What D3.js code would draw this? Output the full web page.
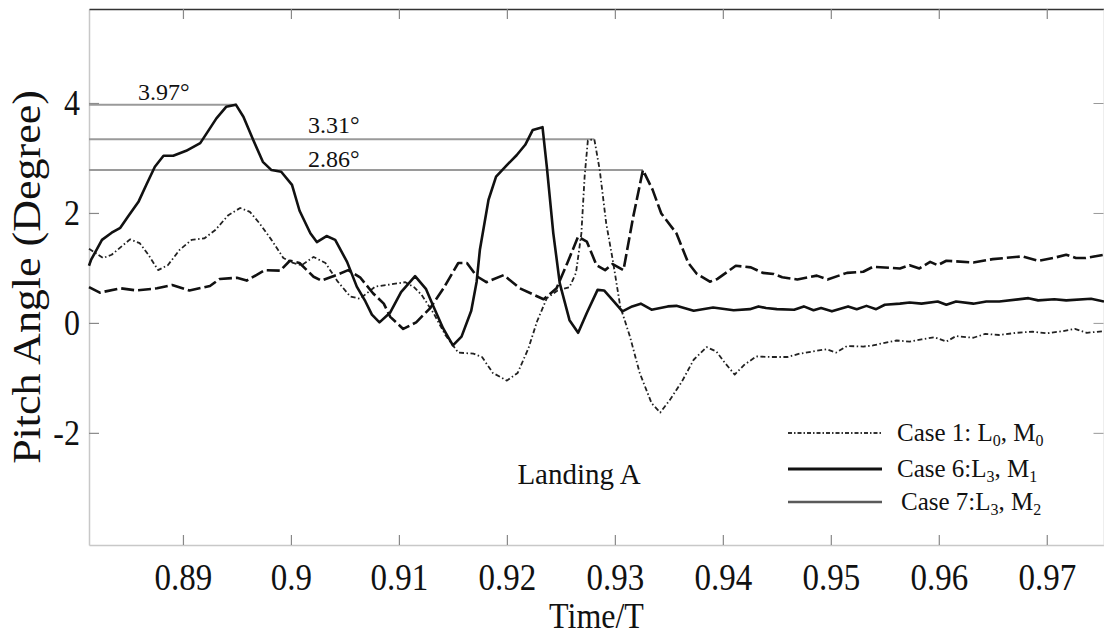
<!DOCTYPE html>
<html>
<head>
<meta charset="utf-8">
<script src="https://cdn.jsdelivr.net/npm/d3@7"></script>
<style>
  body { margin: 0; background: #fff; }
  text { font-family: "Liberation Serif", "Times New Roman", serif; fill: #111; }
</style>
</head>
<body>
<svg id="chart" width="1104" height="635"></svg>
<script>
// Case 1: L0, M0 (dash-dot)
const case1T = [0.8813,0.8826,0.8834,0.8851,0.8860,0.8868,0.8877,0.8886,0.8897,0.8908,0.8920,0.8930,0.8942,0.8953,0.8962,0.8971,0.8982,0.8993,0.9002,0.9010,0.9021,0.9032,0.9043,0.9055,0.9064,0.9078,0.9092,0.9106,0.9114,0.9121,0.9132,0.9143,0.9155,0.9169,0.9177,0.9187,0.9200,0.9210,0.9220,0.9228,0.9237,0.9247,0.9258,0.9264,0.9269,0.9272,0.9275,0.9281,0.9286,0.9292,0.9298,0.9305,0.9314,0.9323,0.9334,0.9342,0.9351,0.9362,0.9373,0.9385,0.9394,0.9402,0.9411,0.9420,0.9431,0.9444,0.9460,0.9471,0.9486,0.9496,0.9505,0.9515,0.9530,0.9539,0.9548,0.9561,0.9573,0.9584,0.9596,0.9607,0.9616,0.9632,0.9643,0.9656,0.9672,0.9687,0.9700,0.9715,0.9726,0.9737,0.9753];
const case1V = [1.35,1.18,1.24,1.52,1.45,1.24,0.96,1.05,1.33,1.51,1.54,1.69,1.96,2.09,2.02,1.81,1.51,1.18,1.09,1.05,1.20,1.09,0.76,0.48,0.44,0.66,0.70,0.74,0.65,0.51,0.18,-0.22,-0.54,-0.56,-0.62,-0.91,-1.05,-0.91,-0.46,0.03,0.45,0.59,0.65,0.91,1.63,2.66,3.32,3.34,2.78,1.81,1.15,0.30,-0.25,-0.91,-1.46,-1.63,-1.40,-1.07,-0.67,-0.44,-0.52,-0.73,-0.94,-0.76,-0.61,-0.62,-0.62,-0.56,-0.51,-0.48,-0.54,-0.42,-0.43,-0.41,-0.37,-0.32,-0.34,-0.30,-0.26,-0.34,-0.24,-0.27,-0.20,-0.22,-0.18,-0.16,-0.19,-0.15,-0.11,-0.18,-0.15];

// Case 6: L3, M1 (solid)
const case6T = [0.8813,0.8815,0.8825,0.8834,0.8842,0.8849,0.8859,0.8866,0.8874,0.8882,0.8891,0.8903,0.8916,0.8923,0.8931,0.8940,0.8949,0.8956,0.8965,0.8974,0.8982,0.8991,0.9001,0.9008,0.9018,0.9024,0.9033,0.9041,0.9052,0.9061,0.9069,0.9075,0.9082,0.9092,0.9102,0.9115,0.9125,0.9132,0.9141,0.9150,0.9158,0.9167,0.9172,0.9175,0.9183,0.9190,0.9200,0.9209,0.9217,0.9224,0.9233,0.9237,0.9243,0.9249,0.9258,0.9266,0.9274,0.9284,0.9290,0.9299,0.9307,0.9316,0.9324,0.9334,0.9349,0.9357,0.9373,0.9391,0.9410,0.9425,0.9433,0.9440,0.9450,0.9466,0.9475,0.9484,0.9491,0.9501,0.9516,0.9524,0.9533,0.9542,0.9550,0.9564,0.9573,0.9584,0.9599,0.9607,0.9616,0.9632,0.9644,0.9656,0.9683,0.9692,0.9707,0.9718,0.9741,0.9753];
const case6V = [1.04,1.15,1.51,1.64,1.73,1.93,2.21,2.51,2.84,3.04,3.04,3.13,3.27,3.48,3.72,3.93,3.97,3.75,3.33,2.93,2.78,2.75,2.51,2.04,1.63,1.47,1.58,1.51,1.11,0.66,0.39,0.15,0.01,0.19,0.56,0.85,0.62,0.30,-0.10,-0.41,-0.25,0.22,0.75,1.33,2.24,2.66,2.87,3.05,3.24,3.51,3.56,2.84,1.63,0.72,0.05,-0.18,0.18,0.60,0.59,0.39,0.21,0.30,0.35,0.24,0.30,0.31,0.22,0.28,0.23,0.25,0.30,0.27,0.25,0.24,0.30,0.23,0.27,0.21,0.30,0.25,0.31,0.25,0.33,0.35,0.37,0.35,0.39,0.33,0.39,0.35,0.39,0.39,0.45,0.41,0.43,0.41,0.44,0.39];

// Case 7: L3, M2 (dashed)
const case7T = [0.8813,0.8823,0.8842,0.8857,0.8876,0.8890,0.8906,0.8925,0.8934,0.8950,0.8959,0.8976,0.8990,0.8999,0.9008,0.9021,0.9028,0.9042,0.9053,0.9064,0.9076,0.9086,0.9092,0.9104,0.9116,0.9129,0.9141,0.9155,0.9163,0.9172,0.9181,0.9197,0.9212,0.9234,0.9246,0.9256,0.9266,0.9274,0.9283,0.9291,0.9298,0.9308,0.9317,0.9326,0.9335,0.9343,0.9357,0.9368,0.9376,0.9388,0.9395,0.9412,0.9426,0.9437,0.9447,0.9455,0.9469,0.9487,0.9497,0.9515,0.9530,0.9539,0.9564,0.9573,0.9582,0.9592,0.9599,0.9607,0.9632,0.9650,0.9677,0.9692,0.9706,0.9718,0.9727,0.9736,0.9753];
const case7V = [0.65,0.55,0.63,0.59,0.63,0.69,0.59,0.67,0.80,0.82,0.77,0.96,0.95,1.13,1.09,0.84,0.77,0.87,0.96,0.83,0.54,0.35,0.11,-0.11,0.01,0.27,0.62,1.09,1.09,0.85,0.74,0.87,0.63,0.43,0.63,1.09,1.57,1.48,1.05,0.96,1.07,0.96,1.93,2.78,2.42,1.99,1.63,1.09,0.89,0.75,0.80,1.04,1.01,0.91,0.89,0.83,0.79,0.86,0.79,0.91,0.93,1.02,0.99,1.05,0.99,1.11,1.05,1.13,1.10,1.16,1.21,1.13,1.18,1.24,1.18,1.18,1.24];

const xTicks = [0.89, 0.90, 0.91, 0.92, 0.93, 0.94, 0.95, 0.96, 0.97];
const yTicks = [-2, 0, 2, 4];
const xDomain = [0.8813, 0.9753];
const yDomain = [-4.04, 5.71];

// peak markers: label text, level of the grey line, time where it stops
const peakLabels = ['3.97°', '3.31°', '2.86°'];
const peakLevels = [3.97, 3.34, 2.78];
const peakTimes = [0.8949, 0.9281, 0.9326];

const legendNames = [['Case 1: L', '0', ', M', '0'], ['Case 6:L', '3', ', M', '1'], ['Case 7:L', '3', ', M', '2']];

const margin = { top: 9, right: 0, bottom: 90, left: 89 };
const W = 1104, H = 635;
const width = W - margin.left - margin.right;
const height = H - margin.top - margin.bottom;

const svg = d3.select('#chart');
const g = svg.append('g').attr('transform', `translate(${margin.left},${margin.top})`);

const x = d3.scaleLinear().domain(xDomain).range([0, width]);
const y = d3.scaleLinear().domain(yDomain).range([height, 0]);

// frame + ticks (ticks point inward)
const fmtTick = d => String(+d.toFixed(2));
const xAxis = g.append('g').attr('transform', `translate(0,${height})`)
    .call(d3.axisBottom(x).tickValues(xTicks).tickSize(-10).tickSizeOuter(0).tickFormat(fmtTick));
const yAxis = g.append('g')
    .call(d3.axisLeft(y).tickValues(yTicks).tickSize(-10).tickSizeOuter(0).tickPadding(9).tickFormat(d => String(d)));
const xTop = g.append('g')
    .call(d3.axisTop(x).tickValues(xTicks).tickSize(-10).tickSizeOuter(0).tickFormat(''));
const yRight = g.append('g').attr('transform', `translate(${width - 0.5},0)`)
    .call(d3.axisRight(y).tickValues(yTicks).tickSize(-10).tickSizeOuter(0).tickFormat(''));

[xAxis, yAxis].forEach(a => {
    a.select('.domain').attr('stroke', '#c8c8c8').attr('stroke-width', 1.5);
    a.selectAll('.tick line').attr('stroke', '#888').attr('stroke-width', 1.2);
    a.selectAll('.tick text').attr('fill', '#111');
});
// the axis labels of the figure look vertically stretched
xAxis.selectAll('.tick text')
    .style('font-size', '33px')
    .attr('y', 0).attr('dy', null)
    .attr('transform', 'translate(0,45) scale(1,1.15)');
yAxis.selectAll('.tick text')
    .style('font-size', '32px')
    .attr('transform', 'scale(1,1.15)');
xTop.select('.domain').attr('stroke', '#333').attr('stroke-width', 1.5);
xTop.selectAll('.tick line').attr('stroke', '#888').attr('stroke-width', 1.2);
yRight.select('.domain').attr('stroke', '#ddd');
yRight.selectAll('.tick line').attr('stroke', '#999');

// grey peak lines
peakLabels.forEach((lab, i) => {
    g.append('line')
        .attr('x1', 0).attr('x2', x(peakTimes[i]))
        .attr('y1', y(peakLevels[i])).attr('y2', y(peakLevels[i]))
        .attr('stroke', '#9a9a9a').attr('stroke-width', 2);
});
const labelPos = [[49, -4.5], [219, -6], [219, -3.5]];
peakLabels.forEach((lab, i) => {
    g.append('text')
        .attr('x', labelPos[i][0]).attr('y', y(peakLevels[i]) + labelPos[i][1])
        .style('font-size', '24px')
        .text(lab);
});

// series
const line = d3.line().x(d => x(d[0])).y(d => y(d[1]));
const series = [
    { t: case1T, v: case1V, stroke: '#222', w: 1.8, dash: '5,2.5,1.5,2.5' },
    { t: case7T, v: case7V, stroke: '#111', w: 2.6, dash: '13,4' },
    { t: case6T, v: case6V, stroke: '#111', w: 2.6, dash: null }
];
series.forEach(s => {
    g.append('path')
        .datum(d3.zip(s.t, s.v))
        .attr('fill', 'none')
        .attr('stroke', s.stroke)
        .attr('stroke-width', s.w)
        .attr('stroke-linejoin', 'round')
        .attr('stroke-dasharray', s.dash)
        .attr('d', line);
});

// legend
const legendRows = [
    { y: 433, tx: 897, stroke: '#333', w: 1.8, dash: '4,2,1.5,2' },
    { y: 469, tx: 897, stroke: '#111', w: 3, dash: null },
    { y: 502, tx: 901, stroke: '#5a5a5a', w: 2.6, dash: null }
];
legendRows.forEach((r, i) => {
    svg.append('line')
        .attr('x1', 788).attr('x2', 882).attr('y1', r.y).attr('y2', r.y)
        .attr('stroke', r.stroke).attr('stroke-width', r.w)
        .attr('stroke-dasharray', r.dash);
    const t = svg.append('text').attr('x', r.tx).attr('y', r.y + 8).style('font-size', '25px');
    const parts = legendNames[i];
    t.append('tspan').text(parts[0]);
    t.append('tspan').attr('dy', 5).style('font-size', '16px').text(parts[1]);
    t.append('tspan').attr('dy', -5).text(parts[2]);
    t.append('tspan').attr('dy', 5).style('font-size', '16px').text(parts[3]);
});

svg.append('text').attr('x', 579).attr('y', 484).attr('text-anchor', 'middle')
    .style('font-size', '29px').text('Landing A');

// axis titles
svg.append('text').attr('transform', `translate(${margin.left + width / 2},628) scale(1,1.1)`)
    .attr('text-anchor', 'middle').style('font-size', '32px').text('Time/T');
svg.append('text').attr('transform', `translate(40,${margin.top + height / 2}) rotate(-90) scale(1.1,1)`)
    .attr('text-anchor', 'middle').style('font-size', '40px').text('Pitch Angle (Degree)');
</script>
</body>
</html>
